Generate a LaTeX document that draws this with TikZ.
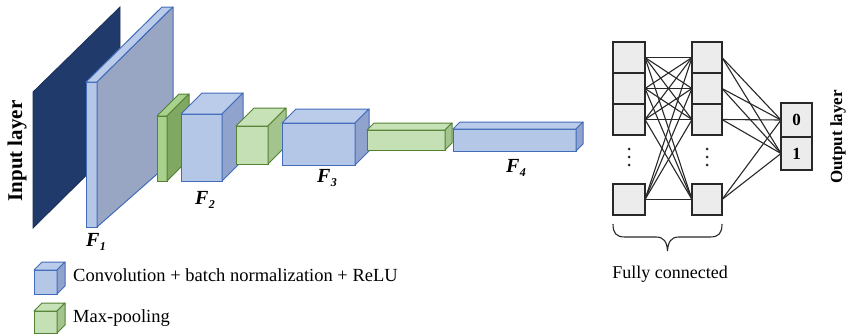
\documentclass[tikz,border=0pt]{standalone}
\usepackage{fontspec}
\setmainfont{Liberation Serif}
\definecolor{navy}{RGB}{32,58,108}
\definecolor{bfront}{RGB}{180,199,231}
\definecolor{btop}{RGB}{186,204,234}
\definecolor{bside}{RGB}{143,163,204}
\definecolor{bpanel}{RGB}{152,166,196}
\definecolor{bline}{RGB}{66,108,186}
\definecolor{gfront}{RGB}{197,224,180}
\definecolor{gtop}{RGB}{200,226,184}
\definecolor{gside}{RGB}{163,196,140}
\definecolor{gline}{RGB}{84,130,53}
\definecolor{gfrontb}{RGB}{169,209,142}
\definecolor{gsideb}{RGB}{128,168,98}
\definecolor{fcfill}{RGB}{236,236,236}
\definecolor{fcline}{RGB}{40,40,40}
\newcommand{\cnncube}[7]{%
  \node[#7front, minimum width={#4-#2}, minimum height={#5-#3}] (#1) at ({(#2+#4)/2},{(#3+#5)/2}) {};
  \draw[#7top] (#1.north west) -- ++(#6,-#6) -- ++({#4-#2},0) -- (#1.north east) -- cycle;
  \draw[#7side] (#1.north east) -- ++(#6,-#6) -- ++(0,{#5-#3}) -- (#1.south east) -- cycle;
}
\newcommand{\flab}[1]{F\kern0.5pt\raisebox{-0.35ex}{\fontsize{12}{12}\selectfont #1}}
\begin{document}
\begin{tikzpicture}[x=1pt,y=-1pt,
  bluefront/.style={draw=bline, fill=bfront, line width=1pt, inner sep=0pt, outer sep=0pt},
  bluetop/.style={draw=bline, fill=btop, line width=1pt, line join=round},
  blueside/.style={draw=bline, fill=bside, line width=1pt, line join=round},
  greenfront/.style={draw=gline, fill=gfront, line width=1pt, inner sep=0pt, outer sep=0pt},
  greentop/.style={draw=gline, fill=gtop, line width=1pt, line join=round},
  greenside/.style={draw=gline, fill=gside, line width=1pt, line join=round},
  greenbfront/.style={draw=gline, fill=gfrontb, line width=1pt, inner sep=0pt, outer sep=0pt},
  greenbtop/.style={draw=gline, fill=gfrontb, line width=1pt, line join=round},
  greenbside/.style={draw=gline, fill=gsideb, line width=1pt, line join=round},
  flabel/.style={font=\fontsize{20}{20}\selectfont\bfseries\itshape, inner sep=0pt},
  fcbox/.style={draw=fcline, fill=fcfill, line width=1.2pt, inner sep=0pt, outer sep=0pt, minimum width=31, minimum height=31},
  fcedge/.style={draw=fcline, line width=1.1pt},
  legtext/.style={font=\fontsize{18.5}{18.5}\selectfont, anchor=west, inner sep=0pt}
]
\useasboundingbox (0,0) rectangle (849,335);
\fill[white] (0,0) rectangle (849,335);

% input layer
\node[rotate=90, font=\fontsize{21}{21}\selectfont\bfseries] (inlab) at (17,151) {Input layer};
\draw[draw=navy!80!black, fill=navy, line width=0.8pt] (33,92) -- (120,7) -- (120,142) -- (33,228) -- cycle;

% F1 panel
\node[bluefront, minimum width=11, minimum height=145] (f1) at (91.5,154.5) {};
\draw[bluetop] (f1.north west) -- (162,7) -- (173,7) -- (f1.north east) -- cycle;
\draw[draw=bline, fill=bpanel, line width=1pt, line join=round] (f1.north east) -- (173,7) -- (173,160) -- (f1.south east) -- cycle;

% blocks
\cnncube{g1}{157}{116}{167}{181}{22}{greenb}
\cnncube{f2}{181}{114}{222}{181}{21}{blue}
\cnncube{g2}{236}{126}{268}{164}{18}{green}
\cnncube{f3}{282}{123}{355}{165}{14}{blue}
\cnncube{g3}{367}{130}{445}{150}{7}{green}
\cnncube{f4}{453}{129}{576}{151}{7}{blue}

% F labels
\node[flabel] (lf1) at (96,242) {\flab{1}};
\node[flabel] (lf2) at (205,200) {\flab{2}};
\node[flabel] (lf3) at (327,178) {\flab{3}};
\node[flabel] (lf4) at (516,168) {\flab{4}};

% fully connected
\node[fcbox, minimum width=32] (l1) at (629,57.5) {};
\node[fcbox, minimum width=32] (l2) at (629,88.5) {};
\node[fcbox, minimum width=32] (l3) at (629,119.5) {};
\node[fcbox, minimum width=32] (l4) at (629,199.5) {};
\node[fcbox, minimum width=30] (r1) at (707,57.5) {};
\node[fcbox, minimum width=30] (r2) at (707,88.5) {};
\node[fcbox, minimum width=30] (r3) at (707,119.5) {};
\node[fcbox, minimum width=30] (r4) at (707,199.5) {};
\node[fcbox, minimum height=34, font=\fontsize{17}{17}\selectfont\bfseries] (o0) at (796.5,120) {0};
\node[fcbox, minimum height=33, font=\fontsize{17}{17}\selectfont\bfseries] (o1) at (796.5,153.5) {1};
\foreach \i in {1,...,4}{
  \foreach \j in {1,...,4}{
    \draw[fcedge] (l\i.east) -- (r\j.west);
  }
  \draw[fcedge] (r\i.east) -- (o0.west);
  \draw[fcedge] (r\i.east) -- (o1.west);
}
\foreach \yy in {149,157,165}{
  \fill[fcline] (629,\yy) circle (1.5);
  \fill[fcline] (707,\yy) circle (1.5);
}
\coordinate (bl) at (613,224);
\coordinate (br) at (722,224);
\draw[fcline, line width=1.1pt] (bl) .. controls (613,233) and (616,237) .. (625,237)
  -- (656,237) .. controls (664,237) and (667,242) .. (667.5,251)
  .. controls (668,242) and (671,237) .. (679,237)
  -- (710,237) .. controls (719,237) and (722,233) .. (br);
\node[font=\fontsize{18}{18}\selectfont] (fclab) at (670,274) {Fully connected};
\node[rotate=90, font=\fontsize{17}{17}\selectfont\bfseries] (outlab) at (838,137) {Output layer};

% legend
\cnncube{legb}{34}{270}{57}{294}{8}{blue}
\cnncube{legg}{34}{311}{57}{333}{8}{green}
\node[legtext] (legbt) at (73,275) {Convolution + batch normalization + ReLU};
\node[legtext] (leggt) at (73,318) {Max-pooling};
\end{tikzpicture}
\end{document}
